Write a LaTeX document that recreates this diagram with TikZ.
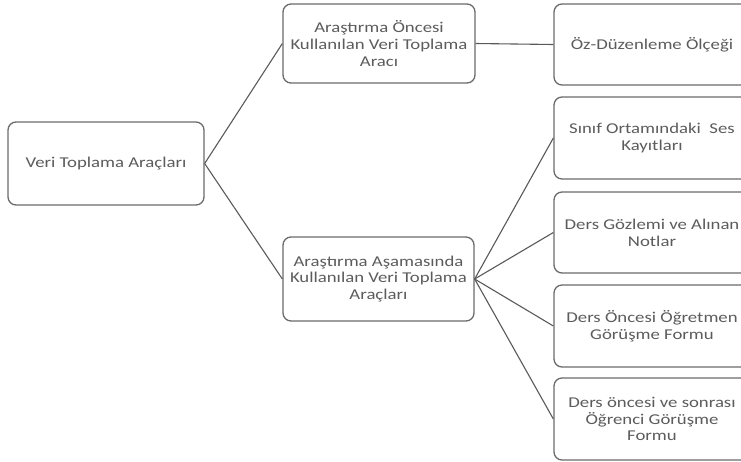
\documentclass[tikz,border=0pt]{standalone}
\usepackage{fontspec}
\setmainfont[FakeStretch=1.25]{Carlito}
\begin{document}
\begin{tikzpicture}[x=1pt,y=-1pt,
  box/.style={draw=black!58, line width=1.3pt, rounded corners=8pt, fill=white,
    text=black!64, align=center, font=\fontsize{15}{16.8}\selectfont,
    inner sep=0pt, minimum width=#1},
  box/.default=196pt,
  link/.style={draw=black!65, line width=1.1pt}]
\useasboundingbox (0,0) rectangle (741,461);
\begin{scope}
\clip (0,0) rectangle (741,461);
% tree of data collection tools
\node[box, minimum height=83pt] (root) at (106,163.5) {Veri Toplama Araçları};
\node[box=192pt, minimum height=79pt] (pre) at (379,43.5) {Araştırma Öncesi\\Kullanılan Veri Toplama\\Aracı};
\node[box=191pt, minimum height=84pt] (dur) at (378.5,279) {Araştırma Aşamasında\\Kullanılan Veri Toplama\\Araçları};
\node[box, minimum height=81pt] (scale) at (652,44.5) {Öz-Düzenleme Ölçeği};
\node[box, minimum height=82pt] (rec) at (652,138) {Sınıf Ortamındaki\ \ Ses\\Kayıtları};
\node[box, minimum height=81pt] (obs) at (652,232.5) {Ders Gözlemi ve Alınan\\Notlar};
\node[box, minimum height=82pt] (tint) at (652,326) {Ders Öncesi Öğretmen\\Görüşme Formu};
\node[box, minimum height=82pt] (sint) at (652,419) {Ders öncesi ve sonrası\\Öğrenci Görüşme\\Formu};
% connectors
\draw[link] (root.east) -- (pre.west);
\draw[link] (root.east) -- (dur.west);
\draw[link] (pre.east) -- (scale.west);
\foreach \t in {rec,obs,tint,sint}
  \draw[link] (dur.east) -- (\t.west);
\end{scope}
\end{tikzpicture}
\end{document}
